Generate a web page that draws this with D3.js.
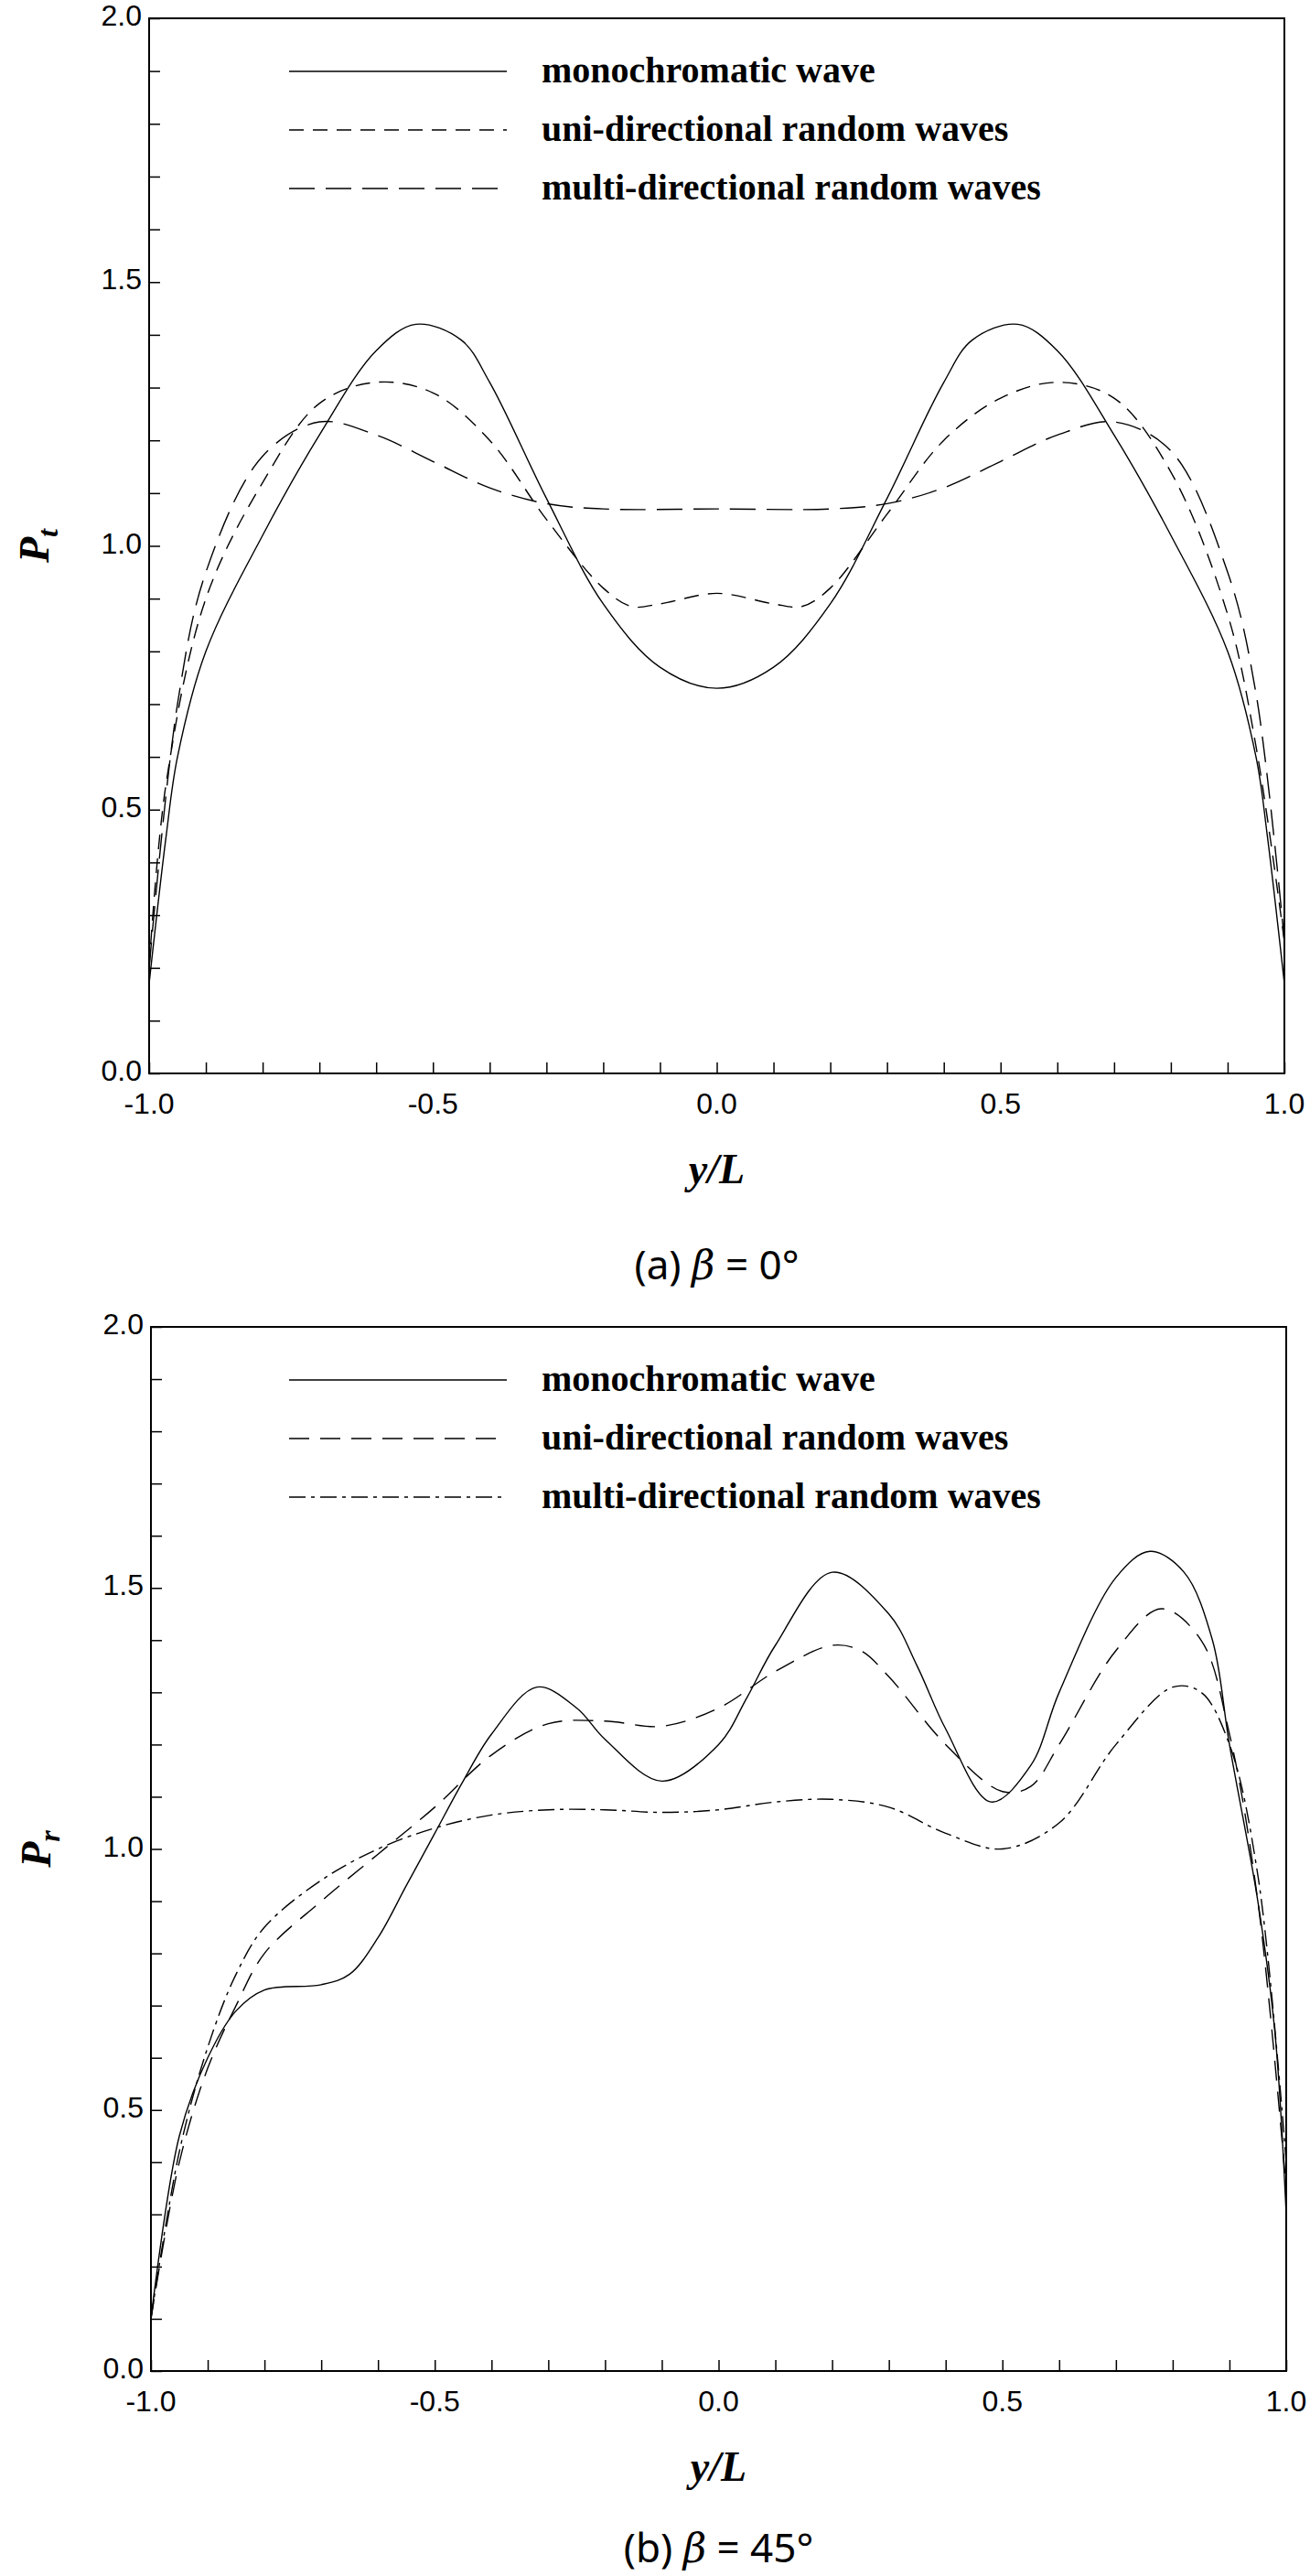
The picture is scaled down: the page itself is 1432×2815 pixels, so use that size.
<!DOCTYPE html>
<html><head><meta charset="utf-8">
<script src="https://cdn.jsdelivr.net/npm/d3@7"></script>
<style>body{margin:0;background:#fff}</style>
</head><body><div id="holder"></div>
<script>
// panel (a) beta = 0
const xA = [-1,-0.97,-0.95,-0.9,-0.8,-0.7,-0.6,-0.53,-0.45,-0.4,-0.3,-0.2,-0.1,0,0.1,0.2,0.3,0.4,0.45,0.53,0.6,0.7,0.8,0.9,0.95,0.97,1];
const monoA = [0.17,0.45,0.6,0.8,1.02,1.21,1.37,1.42,1.39,1.31,1.09,0.89,0.77,0.73,0.77,0.89,1.09,1.31,1.39,1.42,1.37,1.21,1.02,0.8,0.6,0.45,0.17];
const xU = [-1,-0.97,-0.9,-0.8,-0.7,-0.6,-0.5,-0.4,-0.3,-0.2,-0.15,-0.1,0,0.1,0.15,0.2,0.3,0.4,0.5,0.6,0.7,0.8,0.9,0.95,1];
const uniA = [0.2,0.55,0.9,1.12,1.27,1.31,1.29,1.2,1.05,0.92,0.885,0.89,0.91,0.89,0.885,0.92,1.06,1.2,1.28,1.31,1.28,1.14,0.87,0.62,0.25];
const xM = [-1,-0.95,-0.9,-0.8,-0.7,-0.6,-0.5,-0.4,-0.3,-0.2,0,0.2,0.3,0.4,0.5,0.6,0.7,0.8,0.9,0.95,1];
const multiA = [0.2,0.7,0.95,1.17,1.235,1.21,1.16,1.11,1.08,1.07,1.07,1.07,1.08,1.11,1.16,1.21,1.235,1.18,0.95,0.72,0.25];

// panel (b) beta = 45
const xMonoB = [-1,-0.95,-0.9,-0.85,-0.8,-0.7,-0.65,-0.6,-0.55,-0.5,-0.45,-0.4,-0.32,-0.25,-0.2,-0.1,0,0.05,0.1,0.2,0.3,0.35,0.4,0.48,0.55,0.6,0.7,0.76,0.82,0.87,0.9,0.95,0.98,1];
const monoB = [0.1,0.45,0.6,0.69,0.73,0.74,0.76,0.83,0.93,1.03,1.13,1.22,1.31,1.27,1.21,1.13,1.2,1.29,1.39,1.53,1.45,1.35,1.23,1.09,1.16,1.3,1.52,1.57,1.53,1.4,1.2,0.9,0.65,0.3];
const xUniB = [-1,-0.95,-0.9,-0.85,-0.8,-0.7,-0.6,-0.5,-0.4,-0.3,-0.2,-0.1,0,0.1,0.2,0.25,0.3,0.4,0.5,0.55,0.6,0.7,0.78,0.85,0.9,0.95,1];
const uniB = [0.1,0.4,0.58,0.7,0.8,0.9,0.99,1.08,1.18,1.24,1.245,1.235,1.27,1.34,1.39,1.38,1.33,1.2,1.11,1.12,1.2,1.38,1.46,1.4,1.22,0.9,0.35];
const xMultiB = [-1,-0.95,-0.9,-0.85,-0.8,-0.7,-0.6,-0.5,-0.4,-0.3,-0.2,-0.1,0,0.1,0.2,0.3,0.4,0.5,0.6,0.7,0.8,0.85,0.9,0.95,1];
const multiB = [0.1,0.42,0.62,0.76,0.85,0.94,1.0,1.04,1.065,1.075,1.075,1.07,1.075,1.09,1.095,1.08,1.03,1.0,1.05,1.2,1.31,1.3,1.2,0.95,0.4];

const legendLabels = ['monochromatic wave','uni-directional random waves','multi-directional random waves'];
const xTicks = [-1,-0.5,0,0.5,1];
const yTicks = [0,0.5,1,1.5,2];

const W = 1432, H = 2815;
const svg = d3.select('#holder').append('svg').attr('width', W).attr('height', H);

function panel(top, bottom, left, right, series, xlab, sub, caption, captionY) {
	const g = svg.append('g');
	const x = d3.scaleLinear().domain([-1, 1]).range([left, right]);
	const y = d3.scaleLinear().domain([0, 2]).range([bottom, top]);

	g.append('rect').attr('x', left).attr('y', top).attr('width', right - left).attr('height', bottom - top)
		.attr('fill', 'none').attr('stroke', '#000').attr('stroke-width', 2);

	const xa = g.append('g').attr('transform', 'translate(0,' + bottom + ')')
		.call(d3.axisBottom(x).tickValues(d3.range(-1, 1.001, 0.1)).tickSize(-12).tickFormat(''));
	xa.select('.domain').remove();
	const ya = g.append('g').attr('transform', 'translate(' + left + ',0)')
		.call(d3.axisLeft(y).tickValues(d3.range(0, 2.001, 0.1)).tickSize(-12).tickFormat(''));
	ya.select('.domain').remove();
	g.selectAll('.tick line').attr('stroke-width', 1.5);

	g.selectAll('.xl').data(xTicks).enter().append('text')
		.attr('x', d => x(d)).attr('y', bottom + 44).attr('text-anchor', 'middle')
		.attr('font-family', 'Liberation Sans, Arial').attr('font-size', 32).text(d => d.toFixed(1));
	g.selectAll('.yl').data(yTicks).enter().append('text')
		.attr('x', left - 8).attr('y', d => y(d) + 8).attr('text-anchor', 'end')
		.attr('font-family', 'Liberation Sans, Arial').attr('font-size', 32).text(d => d.toFixed(1));

	const line = d3.line().x(d => x(d[0])).y(d => y(d[1])).curve(d3.curveCatmullRom);
	series.forEach((s, i) => {
		g.append('path').datum(d3.zip(s.x, s.y)).attr('d', line)
			.attr('fill', 'none').attr('stroke', '#000').attr('stroke-width', 1.4)
			.attr('stroke-dasharray', s.dash);
		const ly = top + 58 + i * 64;
		g.append('line').attr('x1', 316).attr('x2', 554).attr('y1', ly).attr('y2', ly)
			.attr('stroke', '#000').attr('stroke-width', 1.4).attr('stroke-dasharray', s.dash);
		g.append('text').attr('x', 592).attr('y', ly + 12).attr('font-family', 'Liberation Serif, Times New Roman')
			.attr('font-weight', 'bold').attr('font-size', 40).text(legendLabels[i]);
	});

	const yl = g.append('text').attr('transform', 'translate(' + (left - 110) + ',' + y(1) + ') rotate(-90)')
		.attr('text-anchor', 'middle').attr('font-family', 'Liberation Serif').attr('font-weight', 'bold')
		.attr('font-style', 'italic').attr('font-size', 46);
	yl.append('tspan').text('P');
	yl.append('tspan').attr('font-size', 32).attr('dy', 10).text(sub);

	g.append('text').attr('x', x(0)).attr('y', bottom + 120).attr('text-anchor', 'middle')
		.attr('font-family', 'Liberation Serif').attr('font-weight', 'bold').attr('font-style', 'italic')
		.attr('font-size', 46).text(xlab);
	const cap = g.append('text').attr('x', x(0)).attr('y', captionY).attr('text-anchor', 'middle')
		.attr('font-family', 'Noto Sans').attr('font-size', 44);
	cap.append('tspan').text(caption[0]);
	cap.append('tspan').attr('font-style', 'italic').attr('font-family', 'DejaVu Serif').text(' β');
	cap.append('tspan').text(caption[1]);
}

panel(20, 1173, 163, 1404, [
	{x: xA, y: monoA, dash: null},
	{x: xU, y: uniA, dash: '16,10'},
	{x: xM, y: multiA, dash: '28,12'}
], 'y/L', 't', ['(a) ', ' = 0°'], 1398);

panel(1450, 2591, 165, 1406, [
	{x: xMonoB, y: monoB, dash: null},
	{x: xUniB, y: uniB, dash: '22,12'},
	{x: xMultiB, y: multiB, dash: '18,6,4,6'}
], 'y/L', 'r', ['(b) ', ' = 45°'], 2800);
</script></body></html>
